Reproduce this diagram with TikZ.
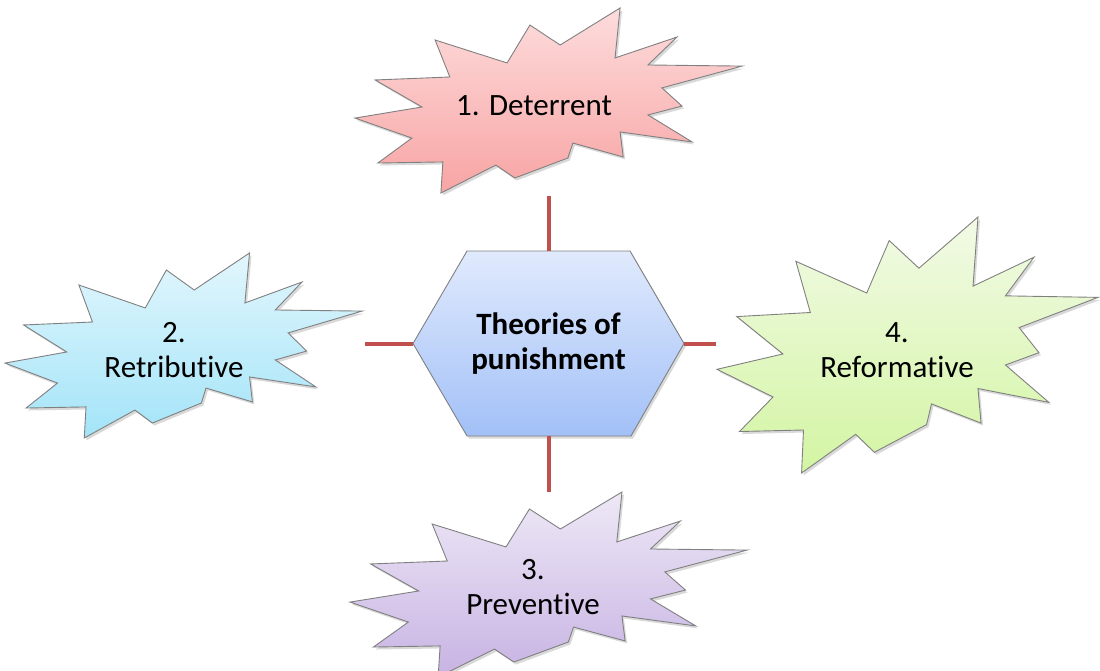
\documentclass[tikz,border=0pt]{standalone}
\usepackage{fontspec}
\setmainfont{Carlito}[Ligatures=NoCommon]
\usetikzlibrary{shadows}
\definecolor{linkred}{HTML}{C0504D}
\definecolor{edgegray}{HTML}{808080}
\tikzset{
  burst/.style={draw=edgegray, line width=0.9pt, line join=miter,
    drop shadow={opacity=0.3, shadow xshift=2pt, shadow yshift=-2.5pt}},
  txt/.style={align=center, font=\fontsize{31}{35}\selectfont, text=black, inner sep=0pt},
  link/.style={draw=linkred, line width=4pt},
  hexfill/.style={draw=edgegray, line width=0.9pt, top color=hexTop, bottom color=hexBot,
    drop shadow={opacity=0.3, shadow xshift=2pt, shadow yshift=-2.5pt}},
}
\definecolor{hexTop}{HTML}{E0EAFD}
\definecolor{hexBot}{HTML}{A2C0F7}
\definecolor{detTop}{HTML}{FDDCDC}
\definecolor{detBot}{HTML}{F8A4A4}
\definecolor{retTop}{HTML}{E2F6FD}
\definecolor{retBot}{HTML}{A3E4F8}
\definecolor{preTop}{HTML}{EEE8F6}
\definecolor{preBot}{HTML}{C7B3E3}
\definecolor{refTop}{HTML}{F2FAE6}
\definecolor{refBot}{HTML}{D3F5A3}
\def\burstpath{(0.207,0.173) -- (0.393,0.297) -- (0.452,0.092) -- (0.530,0.200) -- (0.685,0.000)
  -- (0.672,0.270) -- (0.832,0.157) -- (0.757,0.308) -- (1.000,0.314) -- (0.793,0.432)
  -- (0.845,0.530) -- (0.757,0.578) -- (0.871,0.724) -- (0.685,0.670) -- (0.693,0.805)
  -- (0.563,0.730) -- (0.550,0.811) -- (0.413,0.919) -- (0.364,0.849) -- (0.222,1.000)
  -- (0.227,0.832) -- (0.059,0.838) -- (0.147,0.703) -- (0.000,0.595) -- (0.173,0.535)
  -- (0.052,0.389) -- (0.245,0.373) -- cycle}
\begin{document}
\begin{tikzpicture}[x=1pt, y=-1pt]
\useasboundingbox (0,0) rectangle (1100,671);
\clip (0,0) rectangle (1100,671);
% bursts
\begin{scope}[shift={(355,8)}, x=387pt, y=-185pt]
  \path[burst, top color=detTop, bottom color=detBot] \burstpath;
\end{scope}
\begin{scope}[shift={(5,253)}, x=357pt, y=-185pt]
  \path[burst, top color=retTop, bottom color=retBot] \burstpath;
\end{scope}
\begin{scope}[shift={(350,492)}, x=397pt, y=-185pt]
  \path[burst, top color=preTop, bottom color=preBot] \burstpath;
\end{scope}
\begin{scope}[shift={(717,217)}, x=381pt, y=-256pt]
  \path[burst, top color=refTop, bottom color=refBot] \burstpath;
\end{scope}
% hexagon
\path[hexfill] (467,251) -- (630,251) -- (684,343.5) -- (631,436) -- (467,436) -- (413,343.5) -- cycle;
\node[txt, minimum width=271pt, minimum height=185pt] (hex) at (548.5,343.5)
  {\bfseries Theories of\\\bfseries punishment};
% texts
\node[txt] (det) at (534,106) {1. Deterrent};
\node[txt] (ret) at (174,350) {2.\\Retributive};
\node[txt] (pre) at (533,587) {3.\\Preventive};
\node[txt] (ref) at (897,350) {4.\\Reformative};
% connectors
\coordinate (topend) at (548.5,196);
\coordinate (botend) at (548.5,492);
\coordinate (leftend) at (365,343.5);
\coordinate (rightend) at (716,343.5);
\draw[link] (hex.north) -- (topend);
\draw[link] (hex.south) -- (botend);
\draw[link] (hex.west) -- (leftend);
\draw[link] (hex.east) -- (rightend);
\end{tikzpicture}
\end{document}
